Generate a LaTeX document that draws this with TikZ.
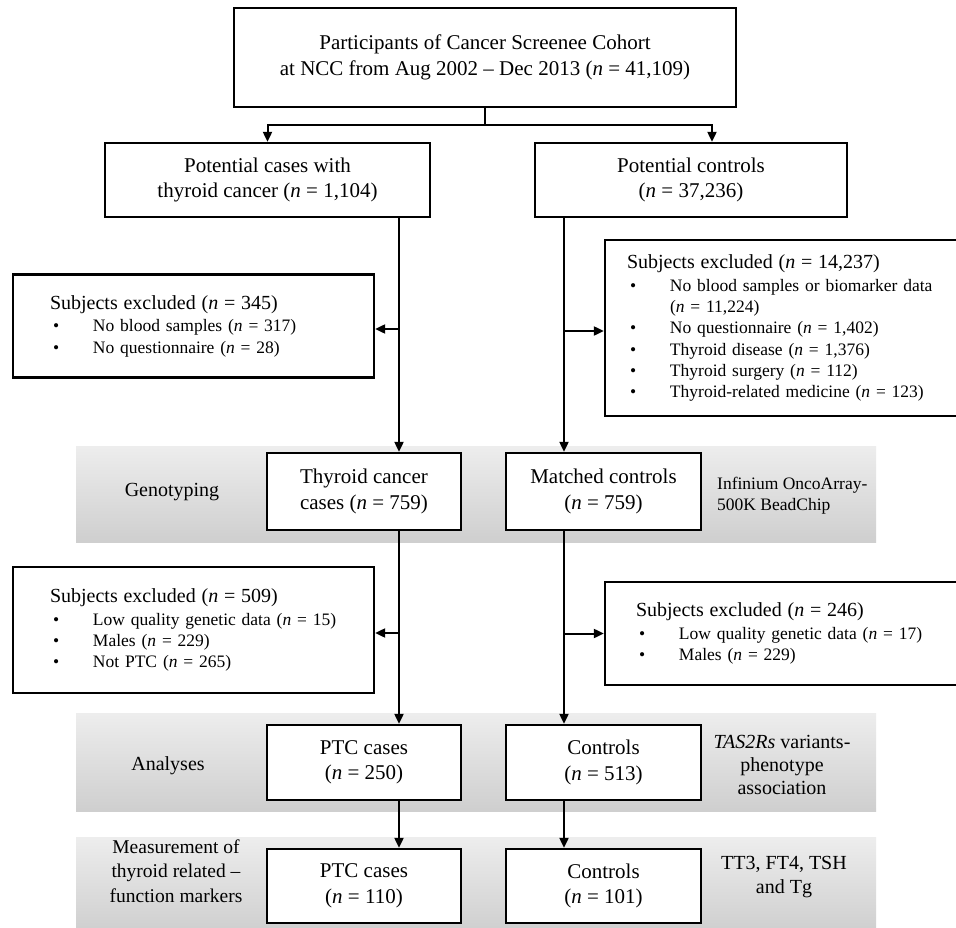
\documentclass[tikz,border=0pt]{standalone}
\usepackage{fontspec}
\setmainfont{Liberation Serif}
\usetikzlibrary{arrows.meta,calc}
\newcommand{\bit}[1]{\\\makebox[43pt][l]{\hspace{3pt}\textbullet}#1}
\tikzset{
  box/.style={draw=black, line width=2.3pt, fill=white, align=center, inner sep=0pt,
    font=\fontsize{21}{25.5}\selectfont},
  exbox/.style={draw=black, line width=2.3pt, fill=white, align=left, inner ysep=0pt,
    minimum width=361pt, font=\fontsize{17.5}{21.2}\selectfont},
  band/.style={top color=white!93!black, bottom color=white!81!black},
  lbl/.style={align=center, inner sep=0pt, font=\fontsize{20}{24.5}\selectfont},
  note/.style={align=left, inner sep=0pt, font=\fontsize{17.5}{21}\selectfont},
  conn/.style={line width=2pt},
  arr/.style={line width=2pt, -{Triangle[length=10pt,width=9pt]}}
}
\begin{document}
\begin{tikzpicture}[x=1pt,y=-1pt]
\useasboundingbox (0,0) rectangle (956,928);
\clip (0,0) rectangle (956,928);
\fill[white] (0,0) rectangle (956,928);
% bands
\shade[band] (76,446) rectangle (876,542);
\shade[band] (76,713) rectangle (876,811);
\shade[band] (76,837) rectangle (876,932);
% main boxes
\node[box, minimum width=502pt, minimum height=99pt] (top) at (485,57.5)
  {Participants of Cancer Screenee Cohort\\at NCC from Aug 2002 -- Dec 2013 (\textit{n} = 41,109)};
\node[box, minimum width=325pt, minimum height=74pt] (pc) at (267.5,180)
  {Potential cases with\\thyroid cancer (\textit{n} = 1,104)};
\node[box, minimum width=312pt, minimum height=74pt] (pctl) at (691,180)
  {Potential controls\\(\textit{n} = 37,236)};
\node[box, minimum width=194pt, minimum height=77pt] (tc) at (364,491.5)
  {Thyroid cancer\\cases (\textit{n} = 759)};
\node[box, minimum width=195pt, minimum height=77pt] (mc) at (603.5,491.5)
  {Matched controls\\(\textit{n} = 759)};
\node[box, minimum width=194pt, minimum height=75pt] (ptc1) at (364,762.5)
  {PTC cases\\(\textit{n} = 250)};
\node[box, minimum width=195pt, minimum height=75pt] (ctl1) at (603.5,762.5)
  {Controls\\(\textit{n} = 513)};
\node[box, minimum width=194pt, minimum height=74pt] (ptc2) at (364,886)
  {PTC cases\\(\textit{n} = 110)};
\node[box, minimum width=195pt, minimum height=74pt] (ctl2) at (603.5,886)
  {Controls\\(\textit{n} = 101)};
% exclusion boxes
\node[exbox, text width=287pt, inner xsep=37pt, minimum height=103pt] (ex1) at (193.5,326)
  {{\fontsize{20}{21.2}\selectfont Subjects excluded (\textit{n} = 345)}\\[1.5pt]
   \makebox[43pt][l]{\hspace{3pt}\textbullet}No blood samples (\textit{n} = 317)%
   \bit{No questionnaire (\textit{n} = 28)}};
\node[exbox, text width=317pt, inner xsep=22pt, minimum height=176pt] (ex2) at (785.5,328)
  {{\fontsize{20}{21.2}\selectfont Subjects excluded (\textit{n} = 14,237)}\\[1.5pt]
   \makebox[43pt][l]{\hspace{3pt}\textbullet}No blood samples or biomarker data\\
   \hspace*{43pt}(\textit{n} = 11,224)%
   \bit{No questionnaire (\textit{n} = 1,402)}%
   \bit{Thyroid disease (\textit{n} = 1,376)}%
   \bit{Thyroid surgery (\textit{n} = 112)}%
   \bit{Thyroid-related medicine (\textit{n} = 123)}};
\node[exbox, text width=287pt, inner xsep=37pt, minimum height=126pt] (ex3) at (193.5,630)
  {{\fontsize{20}{21.2}\selectfont Subjects excluded (\textit{n} = 509)}\\[1.5pt]
   \makebox[43pt][l]{\hspace{3pt}\textbullet}Low quality genetic data (\textit{n} = 15)%
   \bit{Males (\textit{n} = 229)}%
   \bit{Not PTC (\textit{n} = 265)}};
\node[exbox, text width=330pt, inner xsep=31pt, minimum height=103pt] (ex4) at (801,633.5)
  {{\fontsize{20}{21.2}\selectfont Subjects excluded (\textit{n} = 246)}\\[1.5pt]
   \makebox[43pt][l]{\hspace{3pt}\textbullet}Low quality genetic data (\textit{n} = 17)%
   \bit{Males (\textit{n} = 229)}};
% band labels
\node[lbl] (lgen) at (172,492) {Genotyping};
\node[lbl] (lana) at (168,766) {Analyses};
\node[lbl, font=\fontsize{19.5}{24.5}\selectfont] (lmeas) at (176,871) {Measurement of\\thyroid related --\\function markers};
\node[note, anchor=west] (ninf) at (717,496) {Infinium OncoArray-\\500K BeadChip};
\node[lbl, font=\fontsize{20}{22.8}\selectfont] (ntas) at (782,765) {\textit{TAS2Rs} variants-\\phenotype\\association};
\node[lbl, font=\fontsize{20}{24.5}\selectfont] (ntt) at (784,877) {TT3, FT4, TSH\\and Tg};
% connectors
\coordinate (split) at (485,125);
\coordinate (L) at (399,0);
\coordinate (R) at (564,0);
\draw[conn] (top.south) -- (split);
\draw[arr] (split) -| (pc.north);
\draw[arr] (split) -| ([xshift=21pt]pctl.north);
\draw[arr] (pc.south -| L) -- (tc.north -| L);
\draw[arr] ([yshift=-3pt]ex1.east -| L) -- ([yshift=-3pt]ex1.east);
\draw[arr] (pctl.south -| R) -- (mc.north -| R);
\draw[arr] ([yshift=-3pt]ex2.west -| R) -- ([yshift=-3pt]ex2.west);
\draw[arr] (tc.south -| L) -- (ptc1.north -| L);
\draw[arr] ([yshift=-3pt]ex3.east -| L) -- ([yshift=-3pt]ex3.east);
\draw[arr] (mc.south -| R) -- (ctl1.north -| R);
\draw[arr] (ex4.west -| R) -- (ex4.west);
\draw[arr] (ptc1.south -| L) -- (ptc2.north -| L);
\draw[arr] (ctl1.south -| R) -- (ctl2.north -| R);
\end{tikzpicture}
\end{document}
